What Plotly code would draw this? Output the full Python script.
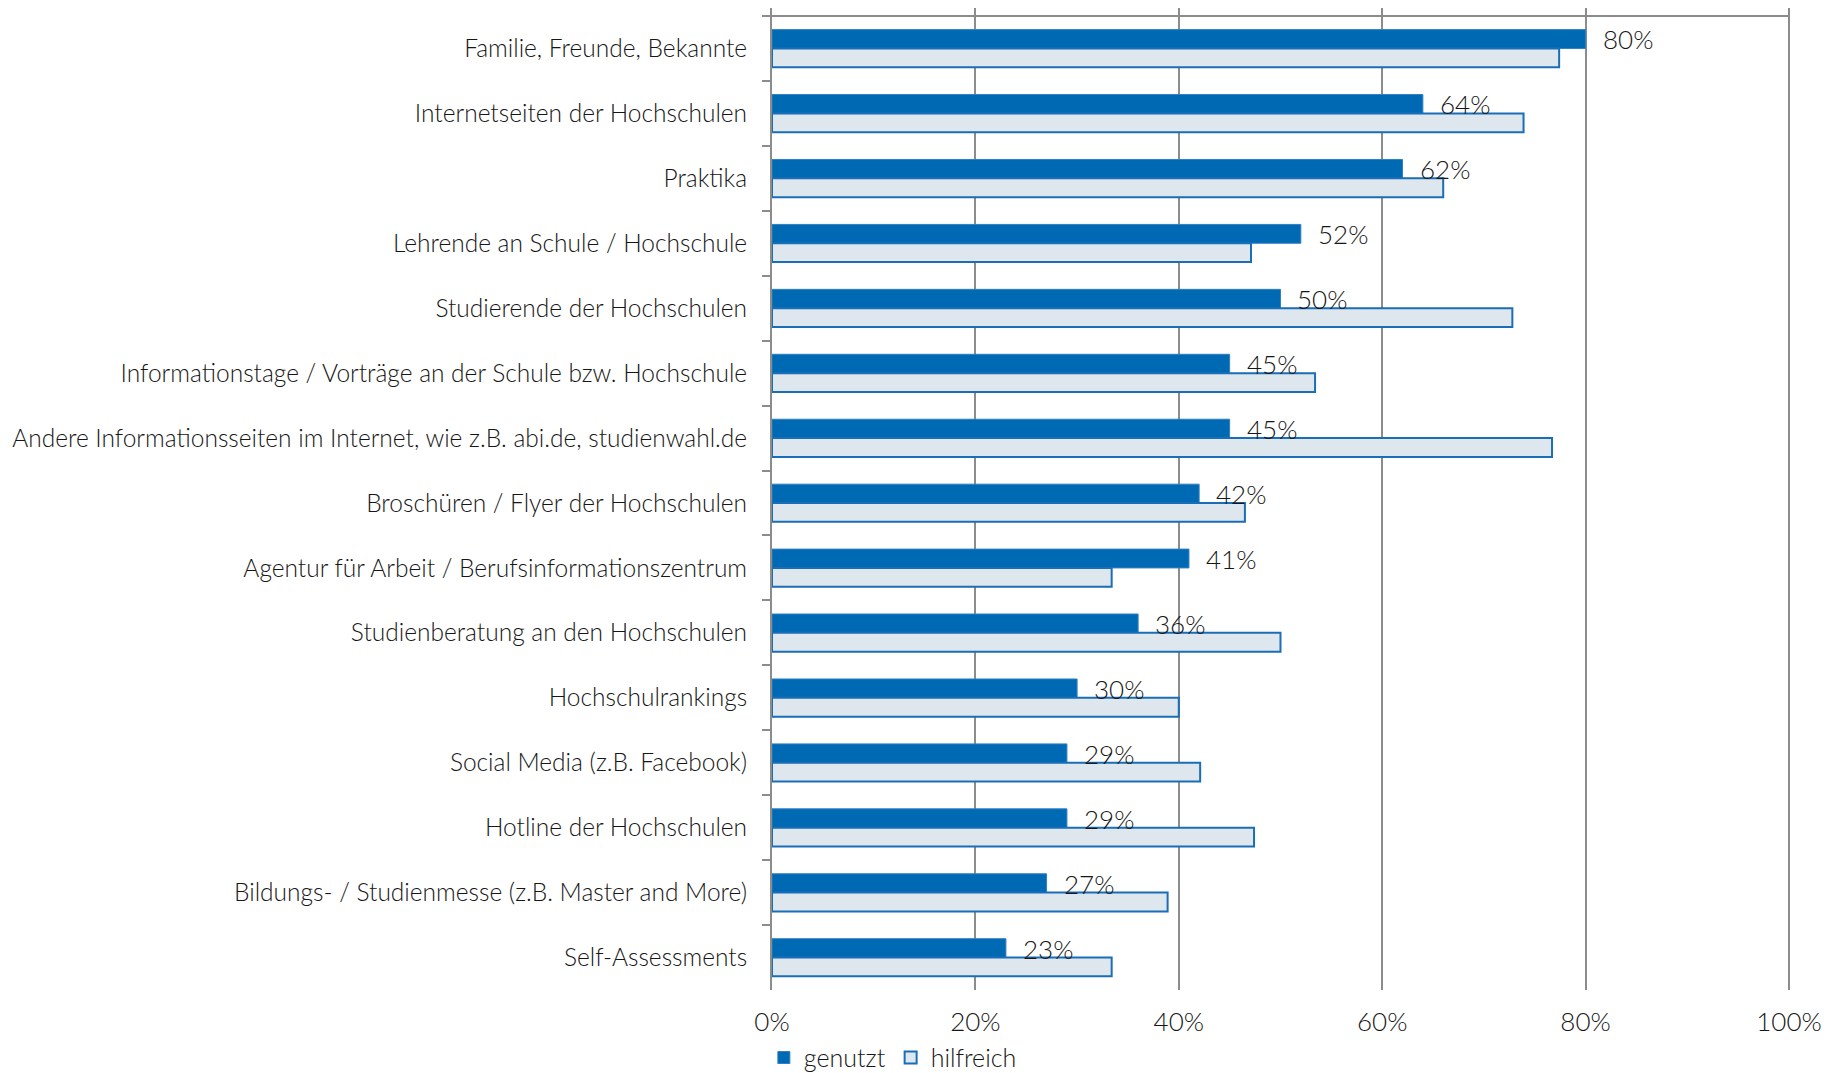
import plotly.graph_objects as go

# Informationsquellen: genutzt vs. hilfreich (Angaben in %)
categories = [
    "Familie, Freunde, Bekannte",
    "Internetseiten der Hochschulen",
    "Praktika",
    "Lehrende an Schule / Hochschule",
    "Studierende der Hochschulen",
    "Informationstage / Vorträge an der Schule bzw. Hochschule",
    "Andere Informationsseiten im Internet, wie z.B. abi.de, studienwahl.de",
    "Broschüren / Flyer der Hochschulen",
    "Agentur für Arbeit / Berufsinformationszentrum",
    "Studienberatung an den Hochschulen",
    "Hochschulrankings",
    "Social Media (z.B. Facebook)",
    "Hotline der Hochschulen",
    "Bildungs- / Studienmesse (z.B. Master and More)",
    "Self-Assessments",
]
genutzt = [80, 64, 62, 52, 50, 45, 45, 42, 41, 36, 30, 29, 29, 27, 23]
hilfreich = [77.4, 73.9, 66.0, 47.1, 72.8, 53.4, 76.7, 46.5, 33.4, 50.0, 40.0, 42.1, 47.4, 38.9, 33.4]
x_ticks = [0, 20, 40, 60, 80, 100]
x_ticktext = ["0%", "20%", "40%", "60%", "80%", "100%"]

FONT = "Lato"
GRID = "#8C8C8C"
TEXT = "#161616"

fig = go.Figure()
fig.add_trace(go.Bar(
    y=categories, x=genutzt, orientation="h", name="genutzt",
    marker=dict(color="#0069B4", line=dict(color="#2F80C4", width=1)),
    hoverinfo="x+y",
))
fig.add_trace(go.Bar(
    y=categories, x=hilfreich, orientation="h", name="hilfreich",
    marker=dict(color="#DEE6EE", line=dict(color="#1A6DB7", width=2)),
    hoverinfo="x+y",
))

# Werte-Labels rechts neben den "genutzt"-Balken
for cat, val in zip(categories, genutzt):
    fig.add_annotation(
        x=val, y=cat, text=f"{val}%", showarrow=False,
        xanchor="left", yanchor="middle", xshift=15, yshift=9,
        font=dict(family=FONT, size=26, color=TEXT, weight=300),
    )

# obere Begrenzungslinie
fig.add_shape(type="line", xref="x", yref="y", x0=0, x1=100, y0=-0.5, y1=-0.5,
              line=dict(color=GRID, width=2), layer="below")

# Seite hat 8px Body-Rand -> Figur entsprechend kleiner
fig.update_layout(
    width=1831, height=1065, autosize=False,
    margin=dict(l=764, r=49, t=0, b=83, autoexpand=False),
    paper_bgcolor="white", plot_bgcolor="white",
    barmode="group", bargap=0.42, bargroupgap=0,
    font=dict(family=FONT, size=25, color=TEXT, weight=300),
    legend=dict(
        orientation="h", x=-0.008, xanchor="left", y=-0.069, yanchor="middle",
        font=dict(family=FONT, size=25, color=TEXT, weight=300),
        itemwidth=30, bgcolor="rgba(0,0,0,0)", traceorder="normal",
    ),
    showlegend=True,
)

fig.update_yaxes(
    type="category", categoryorder="array", categoryarray=categories,
    range=[14.5, -0.623], automargin=False,
    showline=True, linecolor=GRID, linewidth=2,
    ticks="outside", tickson="boundaries", ticklen=8, tickcolor=GRID, tickwidth=2,
    showgrid=False, ticklabelstandoff=18,
    tickfont=dict(family=FONT, size=24.5, color=TEXT, weight=300),
)
fig.update_xaxes(
    range=[0, 100.1], tickvals=x_ticks, ticktext=x_ticktext, automargin=False,
    showgrid=True, gridcolor=GRID, gridwidth=2,
    zeroline=False, showline=False, ticks="",
    ticklabelstandoff=14,
    tickfont=dict(family=FONT, size=26, color=TEXT, weight=300),
)

fig.write_html("out.html")
